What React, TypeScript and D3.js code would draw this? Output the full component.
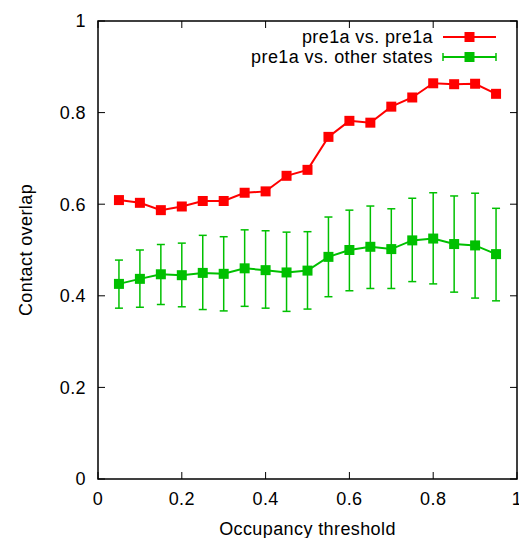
import React from 'react';
import * as d3 from 'd3';

const thresholds = [0.05, 0.1, 0.15, 0.2, 0.25, 0.3, 0.35, 0.4, 0.45, 0.5, 0.55, 0.6, 0.65, 0.7, 0.75, 0.8, 0.85, 0.9, 0.95];
const selfOverlap = [0.609, 0.603, 0.587, 0.595, 0.607, 0.607, 0.625, 0.628, 0.662, 0.675, 0.747, 0.782, 0.778, 0.813, 0.833, 0.864, 0.862, 0.863, 0.841];
const otherMean = [0.426, 0.437, 0.447, 0.445, 0.45, 0.448, 0.46, 0.456, 0.451, 0.455, 0.485, 0.5, 0.507, 0.502, 0.521, 0.525, 0.513, 0.51, 0.491];
const otherHigh = [0.478, 0.5, 0.512, 0.515, 0.532, 0.529, 0.544, 0.542, 0.539, 0.54, 0.572, 0.587, 0.596, 0.59, 0.613, 0.625, 0.618, 0.624, 0.591];
const otherLow = [0.373, 0.375, 0.381, 0.376, 0.37, 0.367, 0.377, 0.373, 0.366, 0.371, 0.398, 0.411, 0.416, 0.416, 0.431, 0.426, 0.408, 0.395, 0.389];
const xTicks = [0, 0.2, 0.4, 0.6, 0.8, 1];
const yTicks = [0, 0.2, 0.4, 0.6, 0.8, 1];

const W = 519;
const H = 538;
const margin = { top: 21, right: 2, bottom: 59, left: 98 };
const RED = '#ff0000';
const GREEN = '#00c000';
const font = '"Liberation Sans", Arial, sans-serif';

const App = () => {
  const x = d3.scaleLinear().domain([0, 1]).range([margin.left, W - margin.right]);
  const y = d3.scaleLinear().domain([0, 1]).range([H - margin.bottom, margin.top]);
  const line = d3.line<number>().x((_, i) => x(thresholds[i])).y(d => y(d));
  const tick = 7;
  const [x0, x1] = x.range();
  const [y0, y1] = y.range();
  const sq = 10;
  const cap = 4;

  return (
    <svg width={W} height={H} style={{ position: 'absolute', left: 0, top: 0 }} fontFamily={font} fontSize={18} letterSpacing={0.4}>
      <rect width={W} height={H} fill="#fff" />
      {/* ticks on all sides */}
      {xTicks.map(t => (
        <g key={'x' + t}>
          <line x1={x(t)} x2={x(t)} y1={y0} y2={y0 - tick} stroke="#000" />
          <line x1={x(t)} x2={x(t)} y1={y1} y2={y1 + tick} stroke="#000" />
          <text x={x(t)} y={y0 + 26} textAnchor="middle">{t}</text>
        </g>
      ))}
      {yTicks.map(t => (
        <g key={'y' + t}>
          <line x1={x0} x2={x0 + tick} y1={y(t)} y2={y(t)} stroke="#000" />
          <line x1={x1} x2={x1 - tick} y1={y(t)} y2={y(t)} stroke="#000" />
          <text x={x0 - 12} y={y(t)} dy="0.35em" textAnchor="end">{t}</text>
        </g>
      ))}
      <rect x={x0} y={y1} width={x1 - x0} height={y0 - y1} fill="none" stroke="#000" strokeWidth={1.5} />
      <text x={(x0 + x1) / 2} y={535} textAnchor="middle">Occupancy threshold</text>
      <text transform={`translate(32,${(y0 + y1) / 2}) rotate(-90)`} textAnchor="middle">Contact overlap</text>

      {/* green error bars */}
      {thresholds.map((t, i) => (
        <g key={'e' + i} stroke={GREEN} strokeWidth={1.5}>
          <line x1={x(t)} x2={x(t)} y1={y(otherLow[i])} y2={y(otherHigh[i])} />
          <line x1={x(t) - cap} x2={x(t) + cap} y1={y(otherLow[i])} y2={y(otherLow[i])} />
          <line x1={x(t) - cap} x2={x(t) + cap} y1={y(otherHigh[i])} y2={y(otherHigh[i])} />
        </g>
      ))}
      <path d={line(otherMean) ?? ''} fill="none" stroke={GREEN} strokeWidth={2} />
      {thresholds.map((t, i) => (
        <rect key={'g' + i} x={x(t) - sq / 2} y={y(otherMean[i]) - sq / 2} width={sq} height={sq} fill={GREEN} />
      ))}

      <path d={line(selfOverlap) ?? ''} fill="none" stroke={RED} strokeWidth={2} />
      {thresholds.map((t, i) => (
        <rect key={'r' + i} x={x(t) - sq / 2} y={y(selfOverlap[i]) - sq / 2} width={sq} height={sq} fill={RED} />
      ))}

      {/* legend */}
      <g>
        <text x={433} y={37} dy="0.35em" textAnchor="end">pre1a vs. pre1a</text>
        <line x1={443} x2={496} y1={37} y2={37} stroke={RED} strokeWidth={2} />
        <rect x={469.5 - sq / 2} y={37 - sq / 2} width={sq} height={sq} fill={RED} />
        <text x={433} y={57} dy="0.35em" textAnchor="end">pre1a vs. other states</text>
        <g stroke={GREEN} strokeWidth={1.5}>
          <line x1={443} x2={496} y1={57} y2={57} strokeWidth={2} />
          <line x1={443} x2={443} y1={57 - cap} y2={57 + cap} />
          <line x1={496} x2={496} y1={57 - cap} y2={57 + cap} />
        </g>
        <rect x={469.5 - sq / 2} y={57 - sq / 2} width={sq} height={sq} fill={GREEN} />
      </g>
    </svg>
  );
};

export default App;
